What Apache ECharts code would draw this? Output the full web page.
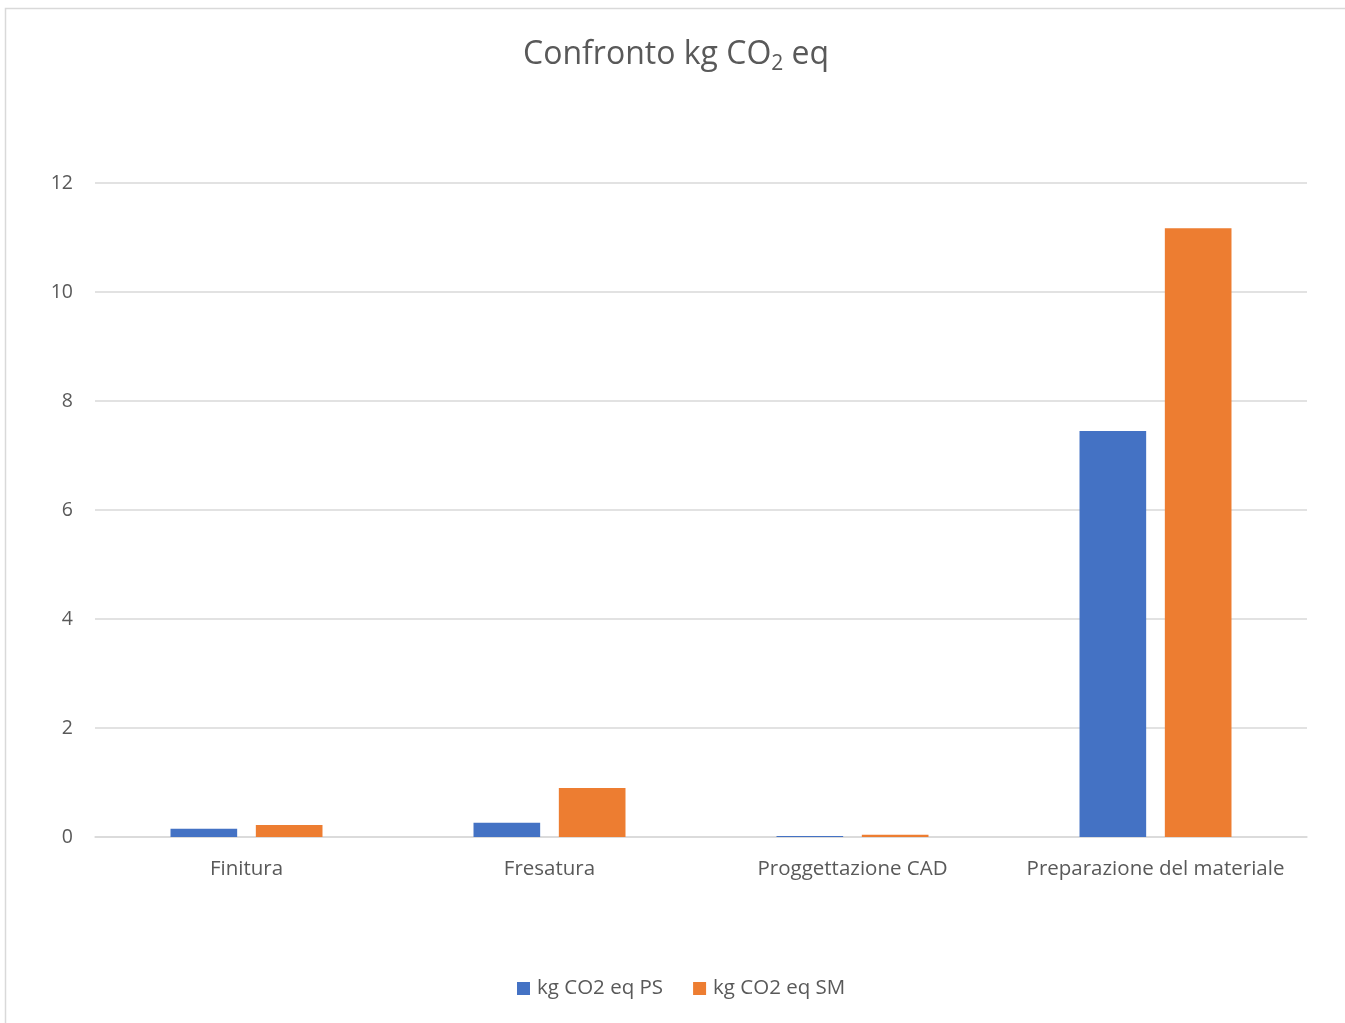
<!DOCTYPE html>
<html>
<head>
<meta charset="utf-8">
<script src="https://cdn.jsdelivr.net/npm/echarts@6/dist/echarts.min.js"></script>
<style>
  html, body { margin: 0; padding: 0; background: #fff; }
  #chart { width: 1345px; height: 1023px; }
</style>
</head>
<body>
<div id="chart"></div>
<script>
// Emissions per production phase (kg CO2 eq)
const categories = ['Finitura', 'Fresatura', 'Proggettazione CAD', 'Preparazione del materiale'];
const seriesNames = ['kg CO2 eq PS', 'kg CO2 eq SM'];
const valuesPS = [0.15, 0.26, 0.02, 7.45];
const valuesSM = [0.22, 0.90, 0.04, 11.17];
const yTicks = { min: 0, max: 12, interval: 2 };

const textColor = '#595959';
const gridColor = '#d9d9d9';
const fontFamily = '"Open Sans", sans-serif';

const chart = echarts.init(document.getElementById('chart'), null, { renderer: 'canvas' });

chart.setOption({
  backgroundColor: '#ffffff',
  textStyle: { fontFamily: fontFamily },
  graphic: [{
    type: 'rect',
    shape: { x: 5.5, y: 8.5, width: 1400, height: 1100 },
    style: { fill: 'none', stroke: gridColor, lineWidth: 1.5 },
    silent: true,
    z: -1
  }],
  title: {
    text: '{a|Confronto kg CO}{s|2}{a| eq}',
    left: 523,
    top: 34,
    padding: 0,
    textStyle: {
      fontWeight: 'normal',
      rich: {
        a: { fontSize: 32, fontWeight: 'normal', color: textColor, fontFamily: fontFamily, lineHeight: 42 },
        s: { fontSize: 21, fontWeight: 'normal', color: textColor, fontFamily: fontFamily, lineHeight: 42, padding: [19, 0, 0, 0] }
      }
    }
  },
  legend: {
    bottom: 19,
    left: 512,
    itemWidth: 13,
    itemHeight: 13,
    itemGap: 30,
    icon: 'rect',
    textStyle: { fontSize: 20.5, color: textColor, fontFamily: fontFamily, padding: [0, 0, 0, 2] },
    data: seriesNames
  },
  grid: { left: 95, right: 38, top: 183, bottom: 186, containLabel: false },
  xAxis: {
    type: 'category',
    data: categories,
    axisLine: { lineStyle: { color: gridColor, width: 1.5 } },
    axisTick: { show: false },
    axisLabel: { fontSize: 20.5, color: textColor, margin: 22, interval: 0 }
  },
  yAxis: {
    type: 'value',
    min: yTicks.min,
    max: yTicks.max,
    interval: yTicks.interval,
    axisLine: { show: false },
    axisTick: { show: false },
    splitLine: { lineStyle: { color: gridColor, width: 1.5 } },
    axisLabel: { fontSize: 19.5, color: textColor, margin: 22 }
  },
  series: [
    {
      name: seriesNames[0],
      type: 'bar',
      data: valuesPS,
      barWidth: '22%',
      barGap: '28%',
      itemStyle: { color: '#4472c4' }
    },
    {
      name: seriesNames[1],
      type: 'bar',
      data: valuesSM,
      barWidth: '22%',
      itemStyle: { color: '#ed7d31' }
    }
  ]
});
</script>
</body>
</html>
